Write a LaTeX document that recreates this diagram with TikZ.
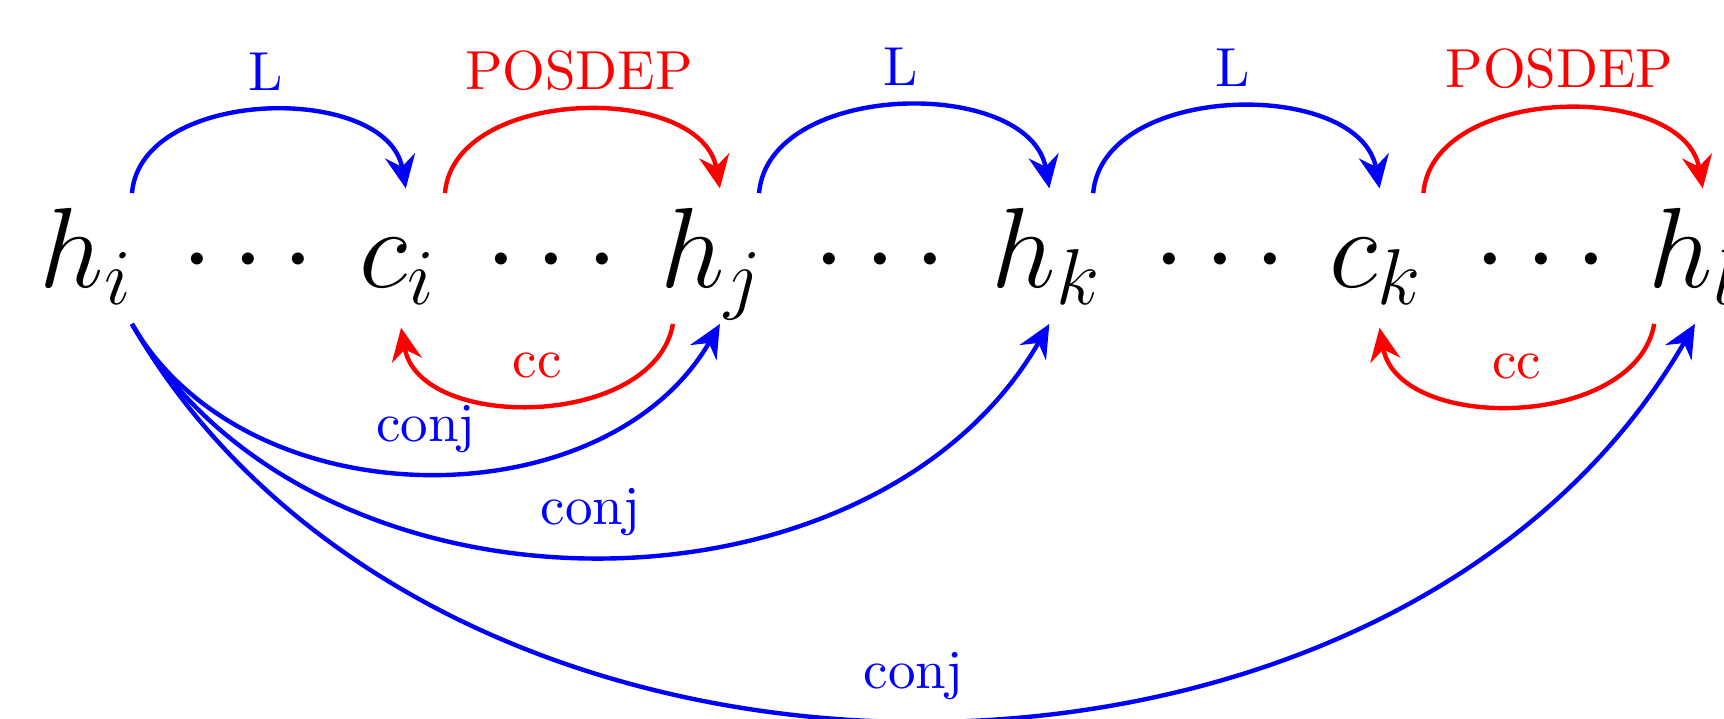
\documentclass[tikz,border=0pt]{standalone}
\usetikzlibrary{arrows.meta}

\begin{document}
\begin{tikzpicture}[x=1cm,y=1cm,
  word/.style={inner sep=0pt, anchor=base, font=\fontsize{20}{24}\selectfont},
  deparc/.style={thick, -{Stealth[length=6pt,width=5.5pt,inset=2pt]}},
  lbl/.style={font=\normalsize}]
\useasboundingbox (0,0) rectangle (11.016,-4.594);

% words
\node[word] (hi) at (0.553,-1.834) {$h_i$};
\node[word] (d1) at (1.585,-1.834) {$\cdots$};
\node[word] (ci) at (2.543,-1.834) {$c_i$};
\node[word] (d2) at (3.527,-1.834) {$\cdots$};
\node[word] (hj) at (4.550,-1.834) {$h_j$};
\node[word] (d3) at (5.623,-1.834) {$\cdots$};
\node[word] (hk) at (6.690,-1.834) {$h_k$};
\node[word] (d4) at (7.796,-1.834) {$\cdots$};
\node[word] (ck) at (8.795,-1.834) {$c_k$};
\node[word] (d5) at (9.847,-1.834) {$\cdots$};
\node[word] (hl) at (10.83,-1.834) {$h_l$};

% arcs above
\draw[deparc, blue] ([shift={(0.29,0.60)}]hi.base) to[out=85,in=100] node[above, lbl] {L} ([shift={(0.05,0.63)}]ci.base);
\draw[deparc, red] ([shift={(0.30,0.60)}]ci.base) to[out=85,in=100] node[above, lbl] {POSDEP} ([shift={(0.05,0.63)}]hj.base);
\draw[deparc, blue] ([shift={(0.30,0.60)}]hj.base) to[out=85,in=100] node[above, lbl] {L} ([shift={(0.015,0.63)}]hk.base);
\draw[deparc, blue] ([shift={(0.295,0.60)}]hk.base) to[out=85,in=100] node[above, lbl] {L} ([shift={(0.02,0.63)}]ck.base);
\draw[deparc, red] ([shift={(0.30,0.60)}]ck.base) to[out=85,in=100] node[above, lbl] {POSDEP} ([shift={(0.05,0.63)}]hl.base);

% arcs below
\draw[deparc, red] ([shift={(-0.25,-0.236)}]hj.base) to[out=-100,in=-80] node[above=1pt, lbl] {cc} ([shift={(0.02,-0.26)}]ci.base);
\draw[deparc, red] ([shift={(-0.26,-0.236)}]hl.base) to[out=-100,in=-80] node[above=1pt, lbl] {cc} ([shift={(0.02,-0.26)}]ck.base);
\draw[deparc, blue] ([shift={(0.29,-0.236)}]hi.base) to[out=-60,in=-120] node[above, lbl] {conj} ([shift={(0.05,-0.236)}]hj.base);
\draw[deparc, blue] ([shift={(0.29,-0.236)}]hi.base) to[out=-60,in=-120] node[above, lbl] {conj} ([shift={(0.015,-0.236)}]hk.base);
\draw[deparc, blue] ([shift={(0.29,-0.236)}]hi.base) to[out=-60,in=-120] node[above, lbl] {conj} ([shift={(0.0,-0.236)}]hl.base);
\end{tikzpicture}
\end{document}
